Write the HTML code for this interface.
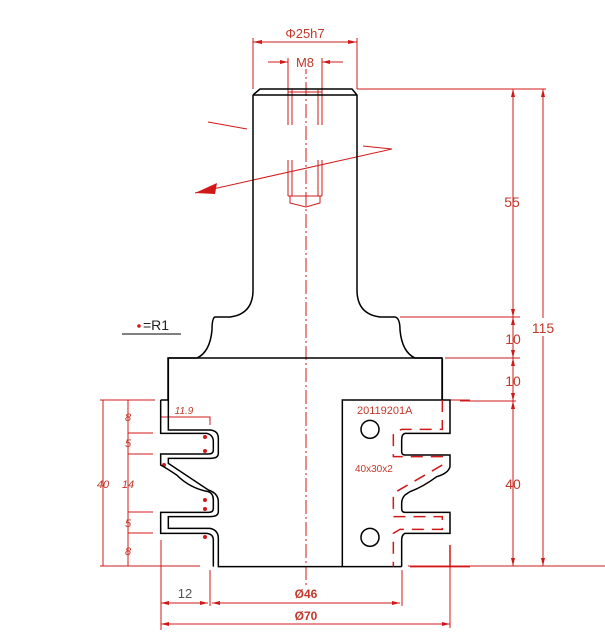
<!DOCTYPE html>
<html><head><meta charset="utf-8"><style>
html,body{margin:0;padding:0;background:#fff;width:605px;height:636px;overflow:hidden}
text{font-family:"Liberation Sans",sans-serif;fill:#c0392b}
</style></head><body>
<svg width="605" height="636" viewBox="0 0 605 636" xmlns="http://www.w3.org/2000/svg">
<g stroke="#d01818" stroke-width="1" fill="none">
<line x1="306" y1="60" x2="306" y2="585" stroke-dasharray="14,3,2,3"/>
<line x1="253" y1="38" x2="253" y2="89"/><line x1="357" y1="38" x2="357" y2="89"/>
<line x1="253" y1="42" x2="357" y2="42"/>
<line x1="288" y1="58" x2="288" y2="125"/><line x1="322" y1="58" x2="322" y2="125"/>
<line x1="268" y1="62" x2="288" y2="62"/><line x1="322" y1="62" x2="343" y2="62"/>
<line x1="292" y1="89" x2="292" y2="125"/><line x1="318" y1="89" x2="318" y2="125"/>
<line x1="288" y1="160" x2="288" y2="196"/><line x1="292" y1="160" x2="292" y2="196"/>
<line x1="318" y1="160" x2="318" y2="196"/><line x1="322" y1="160" x2="322" y2="196"/>
<line x1="288" y1="196" x2="322" y2="196"/>
<polyline points="290,196 290,203 306,207 320,203 320,196"/>
<line x1="288" y1="92" x2="322" y2="92"/>
<line x1="195" y1="193" x2="392" y2="149"/><line x1="392" y1="149" x2="363" y2="146"/>
<line x1="208" y1="122" x2="247" y2="129"/>
<line x1="357" y1="89" x2="546" y2="89"/>
<line x1="400" y1="317" x2="520" y2="317"/>
<line x1="445" y1="358" x2="520" y2="358"/>
<line x1="460" y1="401" x2="516" y2="401"/>
<line x1="408" y1="566" x2="546" y2="566"/>
<line x1="513" y1="89" x2="513" y2="566"/>
<line x1="543" y1="89" x2="543" y2="566"/>
<line x1="100" y1="400" x2="155" y2="400"/>
<line x1="100" y1="566" x2="200" y2="566"/>
<line x1="103" y1="400" x2="103" y2="566"/>
<line x1="128" y1="400" x2="128" y2="566"/>
<line x1="128" y1="433" x2="153" y2="433"/><line x1="128" y1="454" x2="153" y2="454"/>
<line x1="128" y1="512" x2="153" y2="512"/><line x1="128" y1="533" x2="153" y2="533"/>
<polyline points="160,417 210,417 210,425"/>
<line x1="161" y1="540" x2="161" y2="630"/><line x1="210" y1="570" x2="210" y2="606"/>
<line x1="402" y1="570" x2="402" y2="606"/><line x1="450" y1="545" x2="450" y2="628"/>
<line x1="161" y1="603" x2="208" y2="603"/><line x1="212" y1="603" x2="400" y2="603"/>
<line x1="161" y1="624" x2="450" y2="624"/>
<line x1="408" y1="566" x2="605" y2="566"/>
<line x1="445" y1="400" x2="470" y2="400"/>
</g>
<g fill="#d01818">
<polygon points="195,193 217,183 215,194"/>
<polygon points="253,42 262,40 262,44"/><polygon points="357,42 348,40 348,44"/>
<polygon points="288,62 280,60 280,64"/><polygon points="322,62 330,60 330,64"/>
<polygon points="513,89 511,97 515,97"/><polygon points="513,566 511,558 515,558"/>
<polygon points="543,89 541,97 545,97"/><polygon points="543,566 541,558 545,558"/>
<polygon points="513,317 511,309 515,309"/><polygon points="513,317 511,325 515,325"/>
<polygon points="513,358 511,350 515,350"/><polygon points="513,358 511,366 515,366"/>
<polygon points="513,401 511,393 515,393"/><polygon points="513,401 511,409 515,409"/>
<polygon points="161,624 169,622 169,626"/><polygon points="450,624 442,622 442,626"/>
<polygon points="161,603 169,601 169,605"/><polygon points="208,603 200,601 200,605"/>
<polygon points="212,603 220,601 220,605"/><polygon points="400,603 392,601 392,605"/>
<circle cx="139" cy="326" r="1.8"/>
<circle cx="205" cy="437" r="2"/><circle cx="205" cy="451" r="2"/>
<circle cx="164" cy="465" r="2"/><circle cx="205" cy="500" r="2"/><circle cx="205" cy="509" r="2"/>
<circle cx="205" cy="537" r="2"/>
</g>
<line x1="122" y1="334" x2="181" y2="334" stroke="#000" stroke-width="1"/>
<g stroke="#000" stroke-width="1.5" fill="none">
<path d="M253,95 L260,89 L352,89 L357,95 L357,290 Q357,314 380,317 L395,317 Q400,318 400,330 Q402,352 415,358 L442,358 L442,400"/>
<path d="M253,95 L357,95 M253,95 L253,290 Q253,314 230,317 L215,317 Q212,318 212,330 Q210,352 197,358 L168,358 L168,400"/>
<line x1="168" y1="358" x2="442" y2="358"/>
</g>
<g transform="translate(90,300) scale(0.33333)" stroke="#000" stroke-width="1.5" fill="none">
<path vector-effect="non-scaling-stroke" d="M212,300 L235,300 M212,300 L212,400 L350,400 Q370,405 370,425 L370,450 Q370,462 355,462 L212,462 L212,495 Q230,505 260,525 Q300,565 355,575 Q370,580 370,600 L370,625 Q370,637 355,637 L212,637 L212,700 L350,700 Q370,702 370,720 L370,800"/>
<path vector-effect="non-scaling-stroke" d="M235,175 L235,390 L360,390 Q385,392 385,415 L385,460 Q385,475 360,475 L235,475 L235,490 L355,570 Q385,580 385,605 L385,635 Q385,650 360,650 L235,650 L235,685 L360,685 Q385,690 385,715 L385,800 L935,800"/>
<path vector-effect="non-scaling-stroke" d="M1057,175 L1057,300 M757,800 L757,300 L1080,300 L1080,400 L945,400 Q935,402 935,420 L935,455 Q935,465 945,465 L1080,465 L1080,500 Q1075,520 1040,530 Q1000,560 960,575 L945,585 Q935,595 935,610 L935,625 Q935,637 945,637 L1080,637 L1080,700 L945,700 Q935,705 935,720 L935,800"/>
<circle vector-effect="non-scaling-stroke" cx="840" cy="388" r="27"/>
<circle vector-effect="non-scaling-stroke" cx="840" cy="712" r="27"/>
<path vector-effect="non-scaling-stroke" stroke="#d01818" stroke-dasharray="12,8" d="M1057,300 L1057,388 L935,388 L910,400 L910,470 L1057,470 L1057,495 L910,580 L910,650 L1057,650 L1057,688 L930,688 L910,700 L910,800"/>
<line vector-effect="non-scaling-stroke" x1="1080" y1="735" x2="1080" y2="800" stroke="#d01818"/>
<line vector-effect="non-scaling-stroke" x1="960" y1="800" x2="1140" y2="800" stroke="#d01818"/>
</g>
<g font-size="13">
<text x="305" y="38" text-anchor="middle">Φ25h7</text>
<text x="305" y="67" text-anchor="middle" style="fill:#fff;stroke:#fff;stroke-width:4">M8</text>
<text x="305" y="67" text-anchor="middle">M8</text>
<text x="512" y="207" text-anchor="middle" font-size="14">55</text>
<text x="513" y="344" text-anchor="middle" font-size="14">10</text>
<text x="513" y="386" text-anchor="middle" font-size="14">10</text>
<text x="513" y="489" text-anchor="middle" font-size="14">40</text>
<rect x="533" y="318" width="22" height="18" fill="#fff"/>
<text x="543" y="333" text-anchor="middle" font-size="14">115</text>
<text x="143" y="330" font-size="14" style="fill:#222">=R1</text>
<text x="357" y="414" font-size="11">20119201A</text>
<text x="355" y="472" font-size="10">40x30x2</text>
<text x="184" y="414" font-size="10" font-style="italic" text-anchor="middle">11.9</text>
<g font-size="11" font-style="italic" text-anchor="middle">
<text x="128" y="421">8</text><text x="128" y="447">5</text><text x="128" y="488">14</text>
<text x="128" y="527">5</text><text x="128" y="555">8</text><text x="103" y="488">40</text>
</g>
<text x="185" y="598" text-anchor="middle" font-size="13" style="fill:#555">12</text>
<text x="306" y="598" text-anchor="middle" font-size="12" font-weight="bold">Ø46</text>
<text x="306" y="620" text-anchor="middle" font-size="12" font-weight="bold">Ø70</text>
</g>
</svg>
</body></html>
